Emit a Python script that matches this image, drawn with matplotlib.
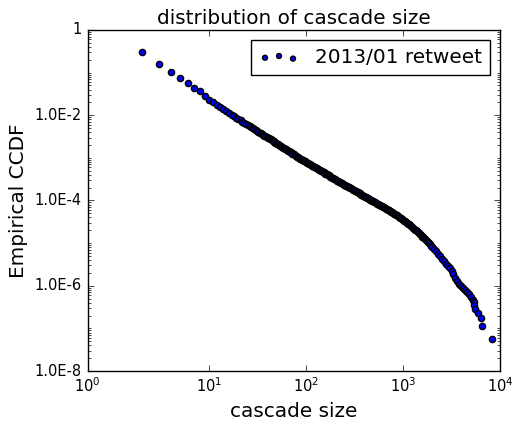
import matplotlib
matplotlib.use('Agg')
import matplotlib.pyplot as plt
import numpy as np
from matplotlib.ticker import NullLocator, NullFormatter, LogLocator

# cascade sizes (x positions of the markers)
cascade_size = [
    2, 3, 4, 5, 6, 7, 8, 9, 10, 11, 12, 13, 14, 15, 16, 17, 18, 19, 20,
    21, 22, 23, 24, 25, 26, 27, 28, 29, 30, 31, 32, 33, 34, 35, 36, 37, 38, 39,
    40, 41, 42, 43, 44, 45, 46, 47, 48, 49, 50, 51, 52, 54, 55, 56, 58, 59,
    60, 62, 63, 65, 66, 68, 69, 71, 72, 74, 76, 78, 79, 81, 83, 85, 87, 89,
    91, 93, 95, 98, 100, 102, 105, 107, 110, 112, 115, 117, 120, 123, 126,
    129, 132, 135, 138, 141, 145, 148, 151, 155, 158, 162, 166, 170, 174,
    178, 182, 186, 191, 195, 200, 204, 209, 214, 219, 224, 229, 234, 240,
    245, 251, 257, 263, 269, 275, 282, 288, 295, 302, 309, 316, 324, 331,
    339, 347, 355, 363, 372, 380, 389, 398, 407, 417, 427, 437, 447, 457,
    468, 479, 490, 501, 513, 525, 537, 550, 562, 575, 589, 603, 617, 631,
    646, 661, 676, 692, 708, 724, 741, 759, 776, 794, 813, 832, 851, 871,
    891, 912, 933, 955, 977, 1000, 1023, 1047, 1072, 1096, 1122, 1148, 1175,
    1202, 1230, 1259, 1288, 1318, 1349, 1380, 1413, 1445, 1479, 1514, 1549,
    1585, 1622, 1660, 1698, 1738, 1778, 1820, 1862, 1905, 1950, 1995,
    2089, 2188, 2291, 2399, 2512, 2630, 2754, 2884, 3020, 3162, 3311, 3467,
    3631, 3802, 3981, 4169, 4365, 4571, 4786, 5012, 5248, 5330, 5400, 5483,
    5930, 6427, 6450, 8360]

# empirical CCDF, stored as log10 of the value
log10_ccdf = [
    -0.509, -0.791, -0.986, -1.134, -1.244, -1.369, -1.439, -1.549, -1.636,
    -1.699, -1.756, -1.808, -1.857, -1.902, -1.944, -1.984, -2.021, -2.057, -2.090,
    -2.122, -2.151, -2.179, -2.206, -2.232, -2.257, -2.280, -2.303, -2.325, -2.347,
    -2.367, -2.387, -2.407, -2.425, -2.444, -2.461, -2.479, -2.495, -2.512,
    -2.525, -2.539, -2.554, -2.568, -2.583, -2.597, -2.612, -2.626, -2.641, -2.655,
    -2.670, -2.684, -2.699, -2.713, -2.728, -2.742, -2.757, -2.771,
    -2.786, -2.800, -2.815, -2.829, -2.844, -2.858, -2.873, -2.887, -2.902, -2.916,
    -2.931, -2.945, -2.960, -2.974, -2.989, -3.003, -3.017, -3.030,
    -3.044, -3.058, -3.071, -3.085, -3.098, -3.112, -3.126, -3.139, -3.153, -3.166,
    -3.180, -3.194, -3.207, -3.221, -3.234,
    -3.248, -3.262, -3.275, -3.289, -3.302, -3.316, -3.330, -3.343, -3.357, -3.370,
    -3.384, -3.398, -3.411, -3.425,
    -3.438, -3.452, -3.466, -3.479, -3.493, -3.506, -3.520, -3.534, -3.547, -3.560,
    -3.573, -3.586, -3.599, -3.613,
    -3.626, -3.639, -3.652, -3.665, -3.678, -3.691, -3.704, -3.717, -3.730, -3.744,
    -3.757, -3.770, -3.783, -3.796,
    -3.809, -3.822, -3.835, -3.848, -3.861, -3.875, -3.888, -3.901, -3.914, -3.927,
    -3.940, -3.953, -3.966, -3.979,
    -3.992, -4.006, -4.019, -4.032, -4.045, -4.058, -4.071, -4.084, -4.097, -4.110,
    -4.123, -4.137, -4.150, -4.163,
    -4.176, -4.189, -4.202, -4.215, -4.228, -4.241, -4.254, -4.268, -4.281, -4.294,
    -4.307, -4.320, -4.333, -4.350,
    -4.368, -4.385, -4.403, -4.420, -4.438, -4.455, -4.473, -4.490, -4.508, -4.525,
    -4.543, -4.560, -4.578,
    -4.599, -4.619, -4.640, -4.660, -4.681, -4.701, -4.722, -4.742, -4.763, -4.783,
    -4.804, -4.824,
    -4.845, -4.865, -4.886, -4.906, -4.927, -4.953, -4.979, -5.005, -5.031, -5.057, -5.083,
    -5.14, -5.19, -5.25, -5.31, -5.37, -5.42, -5.48, -5.53, -5.59, -5.65, -5.73, -5.82,
    -5.89, -5.95, -6.01, -6.06, -6.10, -6.15, -6.20, -6.26, -6.34, -6.39, -6.46, -6.54,
    -6.64, -6.76, -6.94, -7.24]

x_tick_labels = [r'$\mathdefault{10^{0}}$', r'$\mathdefault{10^{1}}$', r'$\mathdefault{10^{2}}$',
                 r'$\mathdefault{10^{3}}$', r'$\mathdefault{10^{4}}$']
y_tick_values = [1, 1e-2, 1e-4, 1e-6, 1e-8]
y_tick_labels = ['1', '1.0E-2', '1.0E-4', '1.0E-6', '1.0E-8']
series_label = '2013/01 retweet'

ccdf = 10.0 ** np.asarray(log10_ccdf)

plt.style.use('classic')
plt.rcParams['mathtext.fontset'] = 'dejavusans'
plt.rcParams['font.family'] = ['DejaVu Sans']

fig = plt.figure(figsize=(5.13, 4.23), dpi=100, facecolor='white')
ax = fig.add_axes([87.5 / 513, 1 - 371 / 423, (500 - 87.5) / 513, (371 - 30) / 423])
ax.set_facecolor('white')

ax.scatter(cascade_size, ccdf, s=20, c='#0000ff', edgecolors='black',
           linewidths=1.0, label=series_label, zorder=3)

ax.set_xscale('log')
ax.set_yscale('log')
xmin = 10 ** (1 - (209.3 - 87.5) / 96.9)
ax.set_xlim(xmin, 1e4)
ax.set_ylim(1e-8, 1)

ax.set_xticks([xmin, 10, 100, 1000, 10000])
ax.set_xticklabels(x_tick_labels)
ax.xaxis.set_minor_locator(NullLocator())

ax.set_yticks(y_tick_values)
ax.set_yticklabels(y_tick_labels)
ax.yaxis.set_minor_locator(LogLocator(base=10, subs=np.arange(1, 10), numticks=100))
ax.yaxis.set_minor_formatter(NullFormatter())

ax.tick_params(axis='both', which='major', labelsize=10.5, direction='in', length=4)
ax.tick_params(axis='both', which='minor', direction='in', length=2)

ax.set_title('distribution of cascade size', fontsize=14.4, pad=4)
ax.set_xlabel('cascade size', fontsize=14.4)
ax.set_ylabel('Empirical CCDF', fontsize=14.4)

leg = ax.legend(loc='upper right', scatterpoints=3, fontsize=14.4, frameon=True,
                markerscale=0.8)
leg.get_frame().set_edgecolor('black')

fig.savefig('out.png', dpi=100, facecolor='white')
